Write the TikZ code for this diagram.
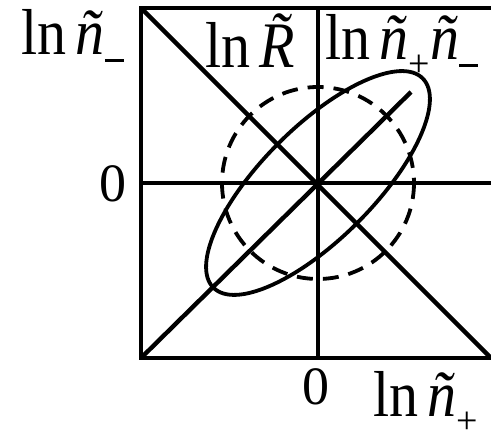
\documentclass[tikz,border=0pt]{standalone}
\usepackage{fontspec}
\setmainfont{Liberation Serif}
\newcommand{\mysub}[1]{\raisebox{-17pt}{\fontsize{38}{42}\selectfont #1}}
\newcommand{\mymin}{\raisebox{-7pt}{\rule{19pt}{2.6pt}}}
\newcommand{\tn}{\textit{ñ}}
\newcommand{\tall}[1]{\scalebox{1}[1.12]{#1}}
\begin{document}
\begin{tikzpicture}[x=1pt,y=-1pt,
  axis/.style={line width=4.4pt},
  curve/.style={line width=3.8pt},
  lab/.style={anchor=base west, inner sep=0pt, font=\fontsize{58}{64}\selectfont},
  zero/.style={anchor=base west, inner sep=0pt, font=\fontsize{54}{60}\selectfont}]
\useasboundingbox (0,0) rectangle (491,430);
% frame corners
\coordinate (tl) at (141,8);
\coordinate (tr) at (496,8);
\coordinate (bl) at (141,358);
\coordinate (br) at (496,358);
\coordinate (c) at (318,183);
\coordinate (ct) at (318,8);
\coordinate (cb) at (318,358);
\coordinate (cl) at (141,183);
\coordinate (cr) at (496,183);
\coordinate (dr) at (491,358);
\coordinate (de) at (411,92);
% frame
\draw[axis] (tr) -- (tl) -- (bl) -- (br);
% axes
\draw[axis] (ct) -- (cb);
\draw[axis] (cl) -- (cr);
% diagonals
\draw[axis] (tl) -- (dr);
\draw[axis] (bl) -- (de);
% dashed circle
\draw[curve, dash pattern=on 16pt off 10pt] (c) circle[radius=96];
% ellipse
\draw[curve, rotate around={45:(c)}] (c) ellipse[x radius=148, y radius=56];
% labels
\node[lab] (ly) at (21,55) {\tall{ln\,\tn}\mymin};
\node[lab] (lr) at (205,68) {\tall{ln\,\textit{\~R}}};
\node[lab] (lp) at (325,60) {\tall{ln\,\tn}\mysub{+}\tall{\tn}\mymin};
\node[lab] (lx) at (373,417) {\tall{ln\,\tn}\mysub{+}};
\node[zero] (z1) at (99,202) {0};
\node[zero] (z2) at (302,405) {0};
\end{tikzpicture}
\end{document}
